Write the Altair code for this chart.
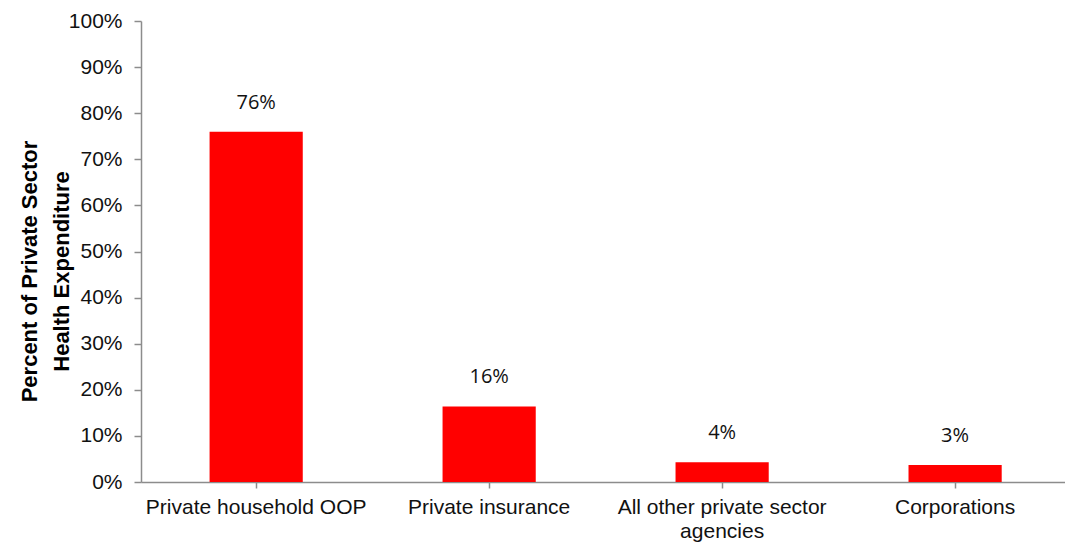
import altair as alt
import pandas as pd

categories = ["Private household OOP", "Private insurance", "All other private sector agencies", "Corporations"]
values = [76.0, 16.4, 4.3, 3.7]
labels = ["76%", "16%", "4%", "3%"]

df = pd.DataFrame({"category": categories, "value": values, "label": labels})

x = alt.X(
    "category:N",
    sort=categories,
    scale=alt.Scale(paddingInner=0.6, paddingOuter=0.283, align=0.52),
    axis=alt.Axis(
        title=None,
        labelAngle=0,
        labelFont="Liberation Sans",
        labelFontSize=21,
        labelColor="#111111",
        labelLimit=400,
        labelPadding=8,
        labelLineHeight=24,
        labelExpr="datum.value == 'All other private sector agencies' ? ['All other private sector', 'agencies'] : datum.label",
        domainColor="#8c8c8c",
        domainWidth=1.5,
        tickColor="#8c8c8c",
        tickSize=6,
        tickWidth=1.5,
    ),
)

bars = alt.Chart(df).mark_bar(color="#ff0000").encode(
    x=x,
    y=alt.Y(
        "value:Q",
        scale=alt.Scale(domain=[0, 100]),
        axis=alt.Axis(
            title=["Percent of Private Sector", "Health Expenditure"],
            titleFont="Liberation Sans",
            titleFontSize=22,
            titleFontWeight="bold",
            titleColor="#000000",
            titleLineHeight=32,
            titleX=-100,
            titleY=250,
            values=[0, 10, 20, 30, 40, 50, 60, 70, 80, 90, 100],
            labelExpr="datum.value + '%'",
            labelFont="Liberation Sans",
            labelFontSize=21,
            labelColor="#111111",
            labelPadding=12,
            grid=False,
            domainColor="#8c8c8c",
            domainWidth=1.5,
            tickColor="#8c8c8c",
            tickSize=7,
            tickWidth=1.5,
        ),
    ),
)

text = alt.Chart(df).mark_text(
    font="Open Sans", fontSize=20, color="#111111", baseline="bottom", dy=-19
).encode(x=alt.X("category:N", sort=categories), y="value:Q", text="label:N")

chart = (bars + text).properties(
    width=924,
    height=461,
    background="white",
    autosize=alt.AutoSizeParams(type="none"),
    padding={"left": 141, "top": 21, "right": 0, "bottom": 66},
).configure_view(strokeWidth=0, stroke="transparent")

chart.save("out.html", embed_options={"renderer": "svg", "actions": False})
